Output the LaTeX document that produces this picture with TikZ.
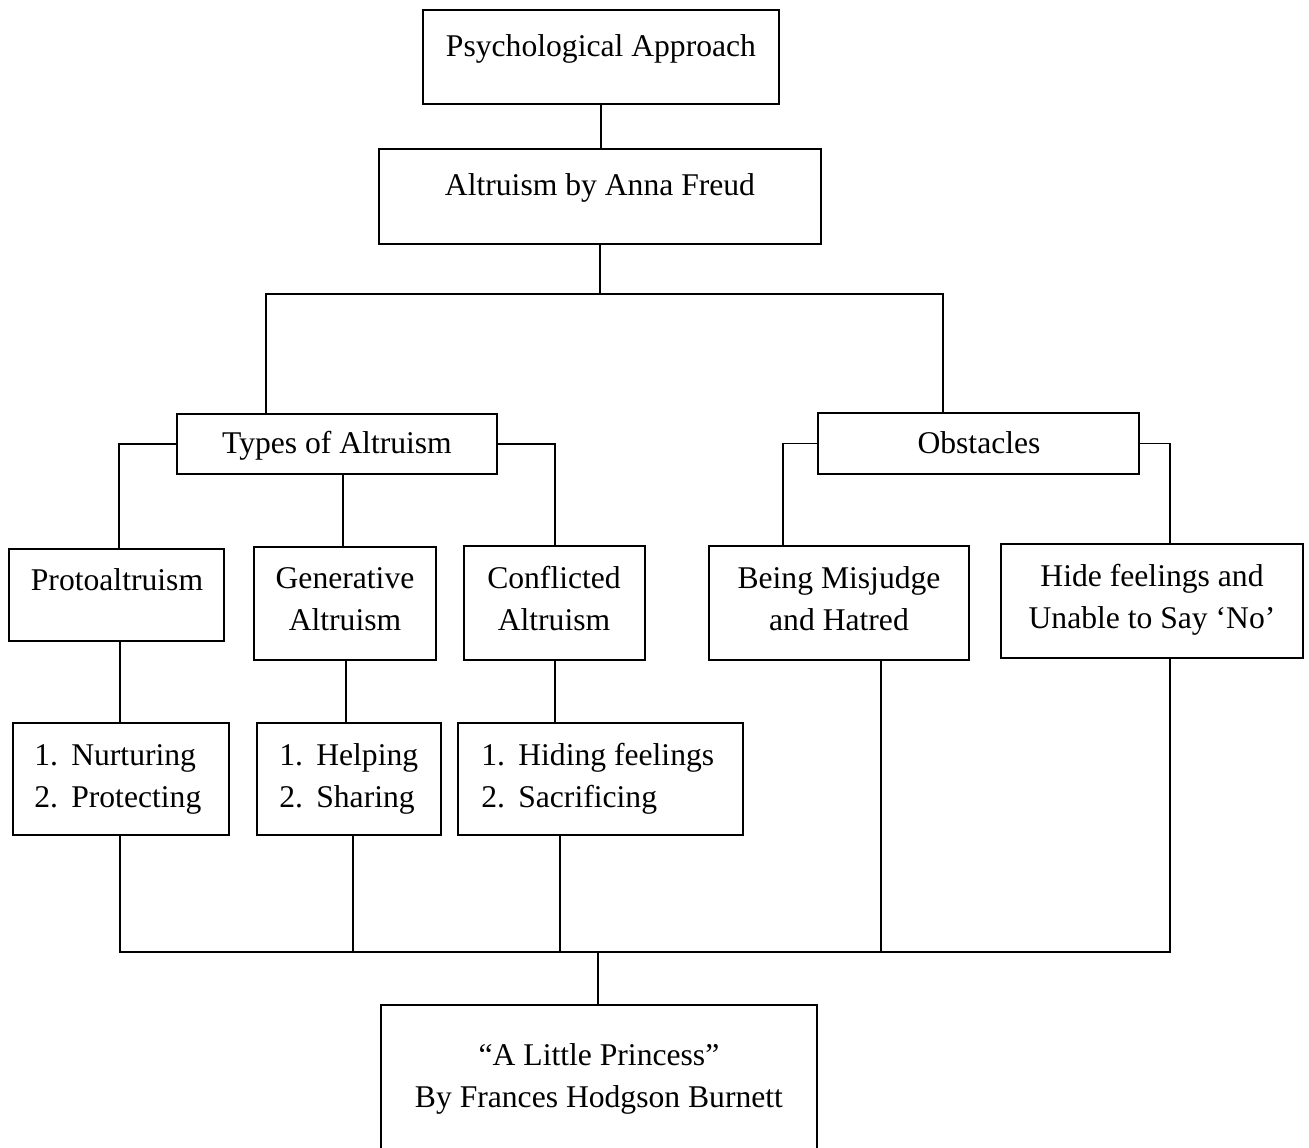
\documentclass[tikz,border=0pt]{standalone}
\usepackage{fontspec}
\setmainfont{Liberation Serif}
\newcommand\mybox[5]{\node[boxst, minimum width={(#4-#2)*0.02cm}, minimum height={(#5-#3)*0.02cm}] (#1) at ({(#2+#4)/2},{(#3+#5)/2}) {};}
\newcommand\itm[2]{\makebox[0.74cm][l]{#1}#2}
\begin{document}
\begin{tikzpicture}[x=0.02cm,y=-0.02cm,
  boxst/.style={draw, line width=0.9pt, inner sep=0pt},
  txt/.style={font=\fontsize{18}{23.9}\selectfont, inner sep=0pt, align=center, anchor=base},
  ltxt/.style={font=\fontsize{18}{23.9}\selectfont, inner sep=0pt, align=left, anchor=base west},
  conn/.style={line width=0.6pt},
  thick conn/.style={line width=1.1pt}]
\useasboundingbox (0,0) rectangle (1309,1147);
\clip (0,0) rectangle (1309,1147);
% boxes
\mybox{pa}{423}{10}{779}{104}
\mybox{af}{379}{149}{821}{244}
\mybox{types}{177}{414}{497}{474}
\mybox{obs}{818}{413}{1139}{474}
\mybox{proto}{9}{549}{224}{641}
\mybox{gen}{254}{547}{436}{660}
\mybox{conf}{464}{546}{645}{660}
\mybox{mis}{709}{546}{969}{660}
\mybox{hide}{1001}{544}{1303}{658}
\mybox{la}{13}{723}{229}{835}
\mybox{lb}{257}{723}{441}{835}
\mybox{lc}{458}{723}{743}{835}
\mybox{lp}{381}{1005}{817}{1170}
% texts (base anchor of a two-line node is the baseline of its last line)
\node[txt] (pat) at (601,56) {Psychological Approach};
\node[txt] (aft) at (600,195) {Altruism by Anna Freud};
\node[txt] (typest) at (337,453) {Types of Altruism};
\node[txt] (obst) at (979,453) {Obstacles};
\node[txt] (protot) at (117,590) {Protoaltruism};
\node[txt] (gent) at (345,630) {Generative\\Altruism};
\node[txt] (conft) at (554,630) {Conflicted\\Altruism};
\node[txt] (mist) at (839,630) {Being Misjudge\\and Hatred};
\node[txt] (hidet) at (1152,628) {Hide feelings and\\Unable to Say ‘No’};
\node[ltxt] (lat) at (34,807) {\itm{1.}{Nurturing}\\\itm{2.}{Protecting}};
\node[ltxt] (lbt) at (279,807) {\itm{1.}{Helping}\\\itm{2.}{Sharing}};
\node[ltxt] (lct) at (481,807) {\itm{1.}{Hiding feelings}\\\itm{2.}{Sacrificing}};
\node[txt] (lpt) at (599,1107) {“A Little Princess”\\By Frances Hodgson Burnett};
% connectors
\coordinate (topbus) at (601,294);
\coordinate (botbus) at (598,952);
\draw[conn] (pa.south) -- (pa.south |- af.north);
\draw[conn] (af.south) -- (af.south |- topbus);
\draw[conn] (266,0 |- types.north) |- (943,0 |- topbus) -- (943,0 |- obs.north);
\draw[conn] (types.west) -| (119,0 |- proto.north);
\draw[conn] (types.east) -| (555,0 |- conf.north);
\draw[conn] (343,0 |- types.south) -- (343,0 |- gen.north);
\draw[conn] (obs.west) -| (783,0 |- mis.north);
\draw[conn] (obs.east) -| (1170,0 |- hide.north);
\draw[conn] (120,0 |- proto.south) -- (120,0 |- la.north);
\draw[conn] (346,0 |- gen.south) -- (346,0 |- lb.north);
\draw[conn] (555,0 |- conf.south) -- (555,0 |- lc.north);
\draw[conn] (120,0 |- la.south) |- (353,0 |- botbus);
\draw[thick conn] (353,0 |- lb.south) |- (905,0 |- botbus);
\draw[conn] (905,0 |- botbus) -| (1170,0 |- hide.south);
\draw[conn] (560,0 |- lc.south) -- (560,0 |- botbus);
\draw[conn] (881,0 |- mis.south) -- (881,0 |- botbus);
\draw[conn] (botbus) -- (botbus |- lp.north);
\end{tikzpicture}
\end{document}
